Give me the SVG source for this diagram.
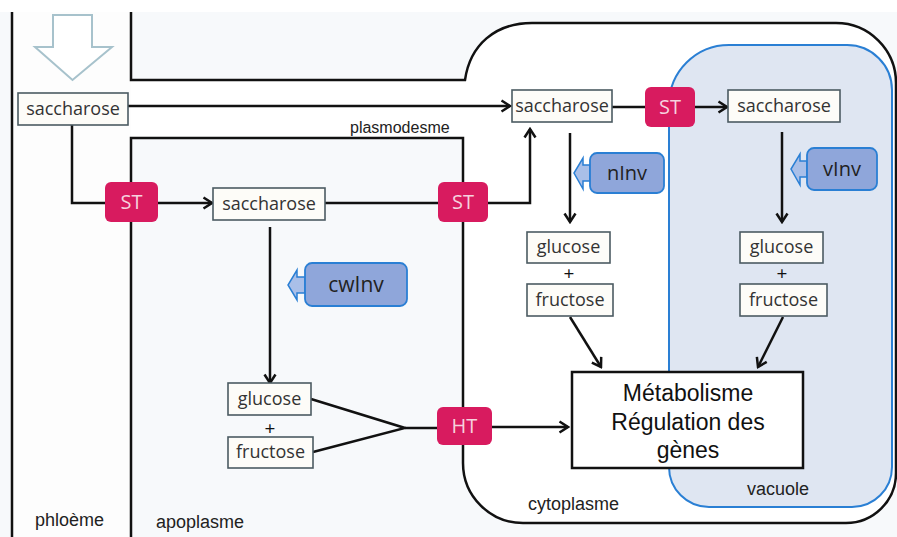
<svg xmlns="http://www.w3.org/2000/svg" width="897" height="537" viewBox="0 0 897 537">
<style>
.ln{fill:none;stroke:#111;stroke-width:2.5}
.arr{fill:none;stroke:#111;stroke-width:2.5;marker-end:url(#ah)}
.box{fill:#fdfcf8;stroke:#4b5b62;stroke-width:1.6}
.bt{font-family:"Open Sans","Noto Sans",sans-serif;font-size:18px;fill:#333;text-anchor:middle}
.pl{font-family:"Open Sans","Noto Sans",sans-serif;font-size:19px;fill:#111;text-anchor:middle}
.st{fill:#d81b5f}
.stt{font-family:"Open Sans","Noto Sans",sans-serif;font-size:20px;fill:#f6d2de;text-anchor:middle}
.enz{fill:#8fa6da;stroke:#2a7fd4;stroke-width:1.8}
.enzh{fill:#a9bfe8;stroke:#2a7fd4;stroke-width:1.5}
.et{font-family:"Open Sans","Noto Sans",sans-serif;font-size:20px;fill:#222;text-anchor:middle}
.lab{font-family:"Liberation Sans",Arial,sans-serif;font-size:18px;fill:#222}
.met{font-family:"Liberation Sans",Arial,sans-serif;font-size:23px;fill:#111;text-anchor:middle}
</style>
<defs>
<marker id="ah" markerWidth="12" markerHeight="14" refX="10" refY="7" orient="auto" markerUnits="userSpaceOnUse">
<path d="M1.5,1.5 L10,7 L1.5,12.5" fill="none" stroke="#111" stroke-width="2.5"/>
</marker>
</defs>
<!-- background -->
<rect x="0" y="0" width="897" height="537" fill="#ffffff"/>
<rect x="0" y="12" width="897" height="525" fill="#f7f9fb"/>
<rect x="12" y="12" width="119" height="525" fill="#fdfdfd"/>
<!-- cytoplasm fill -->
<path d="M131,80 H465 C470,45 495,23 532,23 H836 A60,60 0 0 1 896,83 V473 A50,50 0 0 1 846,523 H523 A60,60 0 0 1 463,463 V138 H131 Z" fill="#ffffff"/>
<!-- vacuole -->
<g id="vacuole">
<path d="M669,105 A60,60 0 0 1 729,45 H847 A45,45 0 0 1 892,90 V467 A40,40 0 0 1 852,507 H709 A40,40 0 0 1 669,467 Z" fill="#dfe6f2" stroke="#2a7fd4" stroke-width="2"/>
</g>
<!-- compartment walls -->
<g id="walls">
<line class="ln" x1="12" y1="12" x2="12" y2="537"/>
<path class="ln" d="M131,12 V80 H465 C470,45 495,23 532,23 H836 A60,60 0 0 1 896,83 V473 A50,50 0 0 1 846,523 H523 A60,60 0 0 1 463,463 V138 H131 V537"/>
</g>
<!-- top hollow arrow -->
<g id="phloem-arrow">
<path d="M53,15 H92 V47 H112 L72.5,80 L35,47 H53 Z" fill="#ffffff" stroke="#a7c2cc" stroke-width="2"/>
</g>
<!-- labels -->
<g id="labels">
<text class="lab" x="35" y="526">phloème</text>
<text class="lab" x="156" y="528">apoplasme</text>
<text class="lab" x="350" y="133" style="font-size:16px">plasmodesme</text>
<text class="lab" x="528" y="510">cytoplasme</text>
<text class="lab" x="747" y="495">vacuole</text>
</g>
<!-- connectors -->
<g id="connectors">
<line class="arr" x1="128" y1="106" x2="510" y2="106"/>
<polyline class="ln" points="72,125 72,203 106,203"/>
<line class="arr" x1="158" y1="203" x2="212" y2="203"/>
<line class="ln" x1="325" y1="203" x2="438" y2="203"/>
<polyline class="arr" points="488,203 530,203 530,129"/>
<line class="ln" x1="612" y1="107" x2="645" y2="107"/>
<line class="arr" x1="695" y1="107" x2="727" y2="107"/>
<line class="arr" x1="570" y1="133" x2="570" y2="222"/>
<line class="arr" x1="782" y1="132" x2="782" y2="222"/>
<line class="arr" x1="270" y1="227" x2="270" y2="383"/>
<polyline class="ln" points="311,399 405,428 313,452"/>
<line class="ln" x1="405" y1="428" x2="438" y2="428"/>
<line class="arr" x1="492" y1="427" x2="568" y2="427"/>
<line class="arr" x1="570" y1="317" x2="601" y2="367"/>
<line class="arr" x1="783" y1="317" x2="758" y2="367"/>
</g>
<!-- sugar nodes -->
<g id="sacch1"><rect class="box" x="18" y="93" width="110" height="32"/><text class="bt" x="73" y="115">saccharose</text></g>
<g id="sacch2"><rect class="box" x="512" y="90" width="100" height="32"/><text class="bt" x="562" y="112">saccharose</text></g>
<g id="sacch3"><rect class="box" x="213" y="188" width="112" height="32"/><text class="bt" x="269" y="210">saccharose</text></g>
<g id="sacch4"><rect class="box" x="728" y="90" width="112" height="32"/><text class="bt" x="784" y="112">saccharose</text></g>
<g id="apo-hexoses">
<rect class="box" x="228" y="383" width="83" height="32"/><text class="bt" x="269.5" y="405">glucose</text>
<text class="pl" x="270" y="435">+</text>
<rect class="box" x="228" y="437" width="85" height="31"/><text class="bt" x="270.5" y="458">fructose</text>
</g>
<g id="cyto-hexoses">
<rect class="box" x="527" y="232" width="83" height="31"/><text class="bt" x="568.5" y="253">glucose</text>
<text class="pl" x="569" y="280">+</text>
<rect class="box" x="527" y="284" width="86" height="32"/><text class="bt" x="570" y="306">fructose</text>
</g>
<g id="vac-hexoses">
<rect class="box" x="740" y="232" width="83" height="31"/><text class="bt" x="781.5" y="253">glucose</text>
<text class="pl" x="782" y="280">+</text>
<rect class="box" x="740" y="284" width="87" height="32"/><text class="bt" x="783.5" y="306">fructose</text>
</g>
<!-- transporters -->
<g id="ST1"><rect class="st" x="105" y="182" width="53" height="40" rx="6"/><text class="stt" x="131.5" y="209">ST</text></g>
<g id="ST2"><rect class="st" x="438" y="182" width="50" height="40" rx="6"/><text class="stt" x="463" y="209">ST</text></g>
<g id="ST3"><rect class="st" x="645" y="87" width="50" height="40" rx="6"/><text class="stt" x="670" y="114">ST</text></g>
<g id="HT"><rect class="st" x="437" y="407" width="55" height="38" rx="6"/><text class="stt" x="464.5" y="433">HT</text></g>
<!-- invertases -->
<g id="cwInv">
<path class="enzh" d="M305,277 H297 V270 L288,285 L297,300 V293 H305 Z"/>
<rect class="enz" x="305" y="263" width="102" height="43" rx="7"/>
<text class="et" x="356" y="292" style="font-size:21px">cwInv</text>
</g>
<g id="nInv">
<path class="enzh" d="M590,165 H583 V158 L574,173 L583,189 V181 H590 Z"/>
<rect class="enz" x="590" y="153" width="74" height="40" rx="7"/>
<text class="et" x="627" y="180">nInv</text>
</g>
<g id="vInv">
<path class="enzh" d="M807,161 H800 V154 L791,169 L800,185 V177 H807 Z"/>
<rect class="enz" x="807" y="148" width="70" height="42" rx="7"/>
<text class="et" x="842" y="176">vInv</text>
</g>
<!-- metabolism -->
<g id="metabolisme">
<rect x="572" y="372" width="231" height="96" fill="#ffffff" stroke="#111" stroke-width="2.5"/>
<text class="met" x="688" y="401">Métabolisme</text>
<text class="met" x="688" y="430">Régulation des</text>
<text class="met" x="688" y="458">gènes</text>
</g>
</svg>
